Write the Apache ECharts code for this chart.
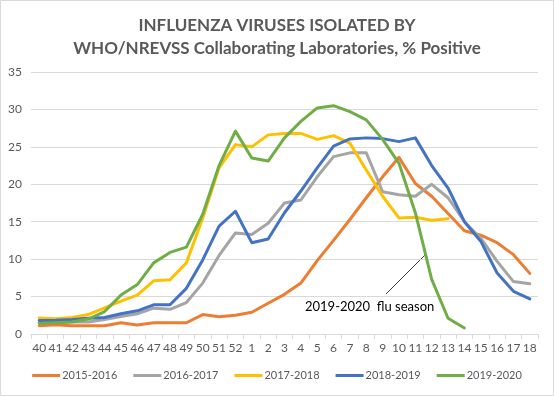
<!DOCTYPE html>
<html>
<head>
<meta charset="utf-8">
<script src="https://cdn.jsdelivr.net/npm/echarts@6/dist/echarts.min.js"></script>
<style>
    html, body { margin: 0; padding: 0; background: #fff; }
    #container { width: 554px; height: 396px; }
</style>
</head>
<body>
<div id="container"></div>
<script>
var weeks = ['40', '41', '42', '43', '44', '45', '46', '47', '48', '49', '50', '51', '52',
    '1', '2', '3', '4', '5', '6', '7', '8', '9', '10', '11', '12', '13', '14', '15', '16', '17', '18'];

var season2015 = [1.1, 1.25, 1.1, 1.1, 1.1, 1.5, 1.2, 1.5, 1.5, 1.5, 2.6, 2.3, 2.5,
    2.9, 4.1, 5.3, 6.8, 9.8, 12.5, 15.3, 18.2, 21.0, 23.6, 20.1, 18.4, 16.1, 13.8, 13.2, 12.2, 10.6, 8.1];
var season2016 = [1.5, 1.6, 1.6, 1.6, 1.95, 2.35, 2.7, 3.45, 3.3, 4.2, 6.8, 10.5, 13.5,
    13.3, 14.8, 17.5, 17.9, 21.0, 23.7, 24.2, 24.2, 19.0, 18.6, 18.4, 20.0, 18.2, 15.0, 12.8, 9.7, 7.0, 6.7];
var season2017 = [2.15, 2.05, 2.2, 2.6, 3.5, 4.4, 5.2, 7.1, 7.25, 9.5, 15.5, 22.2, 25.3,
    25.0, 26.6, 26.8, 26.8, 26.0, 26.5, 25.5, 21.9, 18.4, 15.5, 15.6, 15.2, 15.4, null, null, null, null, null];
var season2018 = [1.8, 1.85, 1.95, 2.1, 2.2, 2.7, 3.1, 3.9, 3.9, 6.1, 9.9, 14.4, 16.4,
    12.2, 12.7, 16.2, 19.1, 22.2, 25.1, 26.05, 26.2, 26.1, 25.7, 26.2, 22.5, 19.5, 15.0, 12.4, 8.15, 5.7, 4.7];
var season2019 = [1.4, 1.5, 1.6, 2.0, 3.0, 5.2, 6.6, 9.5, 10.9, 11.6, 16.0, 22.5, 27.1,
    23.5, 23.1, 26.2, 28.4, 30.2, 30.5, 29.7, 28.6, 26.0, 22.8, 16.2, 7.3, 2.1, 0.8, null, null, null, null];

var seasonNames = ['2015-2016', '2016-2017', '2017-2018', '2018-2019', '2019-2020'];
var seasonColors = ['#ED7D31', '#A5A5A5', '#FFC000', '#4472C4', '#70AD47'];

printChart();

function makeSeries(name, color, data) {
    return {
        name: name,
        type: 'line',
        color: color,
        symbol: 'none',
        connectNulls: false,
        lineStyle: { width: 3, color: color, join: 'round', cap: 'round' },
        data: data
    };
}

function printChart() {
    var dom = document.getElementById('container');
    var myChart = echarts.init(dom);
    var allData = [season2015, season2016, season2017, season2018, season2019];
    var series = [];
    for (let i = 0; i < allData.length; i++) {
        series.push(makeSeries(seasonNames[i], seasonColors[i], allData[i]));
    }

    var option = {
        animation: false,
        backgroundColor: '#fff',
        textStyle: { fontFamily: 'Lato' },
        title: {
            text: 'INFLUENZA VIRUSES ISOLATED BY\nWHO/NREVSS Collaborating Laboratories, % Positive',
            left: 'center',
            top: 9,
            textStyle: {
                fontFamily: 'Lato',
                fontWeight: 'bold',
                fontSize: 17,
                lineHeight: 23,
                color: '#595959'
            }
        },
        legend: {
            bottom: 10,
            left: 'center',
            itemWidth: 28,
            itemHeight: 3,
            itemGap: 16,
            icon: 'rect',
            textStyle: { fontFamily: 'Lato', fontSize: 11, color: '#595959', padding: [0, 0, 0, -3] },
            data: seasonNames
        },
        grid: {
            left: 31,
            right: 16,
            top: 72,
            bottom: 62
        },
        xAxis: {
            type: 'category',
            data: weeks,
            boundaryGap: true,
            axisLine: { lineStyle: { color: '#D9D9D9', width: 1 } },
            axisTick: { show: true, alignWithLabel: false, length: 5, lineStyle: { color: '#D9D9D9' } },
            axisLabel: { color: '#595959', fontSize: 12, margin: 8, interval: 0 }
        },
        yAxis: {
            type: 'value',
            min: 0,
            max: 35,
            interval: 5,
            axisLine: { show: false },
            axisTick: { show: false },
            axisLabel: { color: '#595959', fontSize: 12, margin: 9 },
            splitLine: { lineStyle: { color: '#D9D9D9', width: 1 } }
        },
        graphic: [
            {
                type: 'rect',
                shape: { x: 0.5, y: 0.5, width: 553, height: 395 },
                style: { fill: 'none', stroke: '#D9D9D9', lineWidth: 1 },
                silent: true
            },
            {
                type: 'line',
                shape: { x1: 386, y1: 294, x2: 425, y2: 255 },
                style: { stroke: '#000', lineWidth: 0.75 },
                silent: true
            },
            {
                type: 'text',
                left: 305,
                top: 300,
                style: { text: '2019-2020  flu season', fill: '#000', font: '13px Lato' },
                silent: true
            }
        ],
        series: series
    };

    if (option && typeof option === 'object') {
        myChart.setOption(option, true);
    }
}
</script>
</body>
</html>
